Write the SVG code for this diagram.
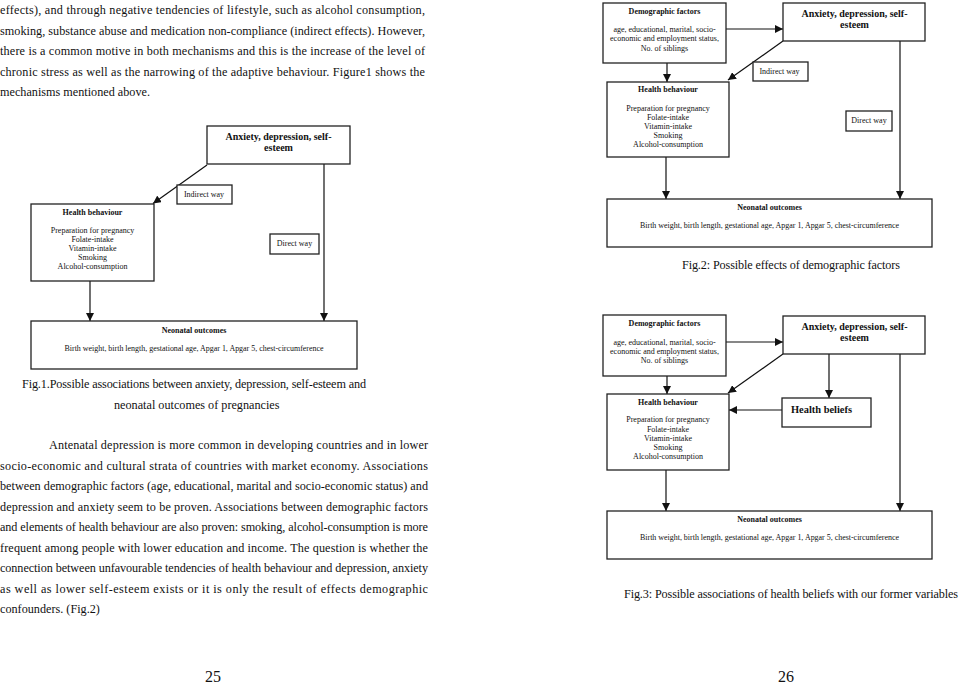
<svg xmlns="http://www.w3.org/2000/svg" width="960" height="684" viewBox="0 0 960 684">
<defs>
<marker id="ah" markerUnits="userSpaceOnUse" markerWidth="9" markerHeight="8" refX="8" refY="4" orient="auto">
<path d="M0,0 L8,4 L0,8 Z" fill="#111"/>
</marker>
<style>
.bg{fill:#fff}
.box{fill:#fff;stroke:#222;stroke-width:1.3}
.conn line{stroke:#111;stroke-width:1.2;fill:none}
.arr{marker-end:url(#ah)}
text{font-family:"Liberation Serif","Times New Roman",serif;fill:#111}
.p{font-size:12.2px}
.cap{font-size:12.2px}
.t{font-size:8px;text-anchor:middle}
.tb{font-size:8px;font-weight:bold;text-anchor:middle}
.big{font-size:10px;font-weight:bold;text-anchor:middle}
.lab{font-size:8px;text-anchor:middle}
.pg{font-size:16px;text-anchor:middle}
</style>
</defs>
<rect class="bg" x="0" y="0" width="960" height="684"/>

<g id="text-top">
<text class="p" x="0" y="14" textLength="425" lengthAdjust="spacing">effects), and through negative tendencies of lifestyle, such as alcohol consumption,</text>
<text class="p" x="0" y="35" textLength="425" lengthAdjust="spacing">smoking, substance abuse and medication non-compliance (indirect effects). However,</text>
<text class="p" x="0" y="55" textLength="425" lengthAdjust="spacing">there is a common motive in both mechanisms and this is the increase of the level of</text>
<text class="p" x="0" y="76" textLength="425" lengthAdjust="spacing">chronic stress as well as the narrowing of the adaptive behaviour. Figure1 shows the</text>
<text class="p" x="0" y="96">mechanisms mentioned above.</text>
</g>

<!-- Figure 1 -->
<g id="f1-conn" class="conn">
<line class="arr" x1="207" y1="165" x2="153" y2="203.5"/>
<line class="arr" x1="324" y1="164" x2="324" y2="321"/>
<line class="arr" x1="90" y1="281" x2="90" y2="321"/>
</g>
<g id="f1-anx">
<rect class="box" x="207" y="126" width="143" height="38"/>
<text class="big" x="278.5" y="140">Anxiety, depression, self-</text>
<text class="big" x="278.5" y="151">esteem</text>
</g>
<g id="f1-indirect">
<rect class="box" x="177" y="185" width="55" height="19"/>
<text class="lab" x="204" y="196.5">Indirect way</text>
</g>
<g id="f1-direct">
<rect class="box" x="270" y="234" width="49" height="20"/>
<text class="lab" x="294.5" y="246">Direct way</text>
</g>
<g id="f1-hb">
<rect class="box" x="31" y="204" width="123" height="77"/>
<text class="tb" x="92.5" y="215">Health behaviour</text>
<text class="t" x="92.5" y="233">Preparation for pregnancy</text>
<text class="t" x="92.5" y="242">Folate-intake</text>
<text class="t" x="92.5" y="251">Vitamin-intake</text>
<text class="t" x="92.5" y="260">Smoking</text>
<text class="t" x="92.5" y="269">Alcohol-consumption</text>
</g>
<g id="f1-neo">
<rect class="box" x="31" y="321" width="326" height="48"/>
<text class="tb" x="194" y="333">Neonatal outcomes</text>
<text class="t" x="194" y="351" textLength="259" lengthAdjust="spacingAndGlyphs">Birth weight, birth length, gestational age, Apgar 1, Apgar 5, chest-circumference</text>
</g>
<g id="f1-caption">
<text class="cap" x="22" y="388" textLength="344" lengthAdjust="spacing">Fig.1.Possible associations between anxiety, depression, self-esteem and</text>
<text class="cap" x="114" y="409">neonatal outcomes of pregnancies</text>
</g>

<g id="text-bottom">
<text class="p" x="49" y="449" textLength="379" lengthAdjust="spacing">Antenatal depression is more common in developing countries and in lower</text>
<text class="p" x="0" y="470" textLength="428" lengthAdjust="spacing">socio-economic and cultural strata of countries with market economy. Associations</text>
<text class="p" x="0" y="490" textLength="428" lengthAdjust="spacing">between demographic factors (age, educational, marital and socio-economic status) and</text>
<text class="p" x="0" y="511" textLength="428" lengthAdjust="spacing">depression and anxiety seem to be proven. Associations between demographic factors</text>
<text class="p" x="0" y="531" textLength="428" lengthAdjust="spacing">and elements of health behaviour are also proven: smoking, alcohol-consumption is more</text>
<text class="p" x="0" y="552" textLength="428" lengthAdjust="spacing">frequent among people with lower education and income. The question is whether the</text>
<text class="p" x="0" y="572" textLength="428" lengthAdjust="spacing">connection between unfavourable tendencies of health behaviour and depression, anxiety</text>
<text class="p" x="0" y="593" textLength="428" lengthAdjust="spacing">as well as lower self-esteem exists or it is only the result of effects demographic</text>
<text class="p" x="0" y="613">confounders. (Fig.2)</text>
</g>

<!-- Figure 2 -->
<g id="f2-conn" class="conn">
<line class="arr" x1="722" y1="29" x2="783" y2="29"/>
<line class="arr" x1="667" y1="63" x2="667" y2="82"/>
<line class="arr" x1="783" y1="41" x2="728" y2="80"/>
<line class="arr" x1="900" y1="41" x2="900" y2="199"/>
<line class="arr" x1="666" y1="157" x2="666" y2="199"/>
</g>
<g id="f2-demo">
<rect class="box" x="603" y="3" width="123" height="60"/>
<text class="tb" x="664.5" y="14">Demographic factors</text>
<text class="t" x="664.5" y="32">age, educational, marital, socio-</text>
<text class="t" x="664.5" y="41">economic and employment status,</text>
<text class="t" x="664.5" y="51">No. of siblings</text>
</g>
<g id="f2-anx">
<rect class="box" x="783" y="3" width="142" height="38"/>
<text class="big" x="854.5" y="17">Anxiety, depression, self-</text>
<text class="big" x="854.5" y="28">esteem</text>
</g>
<g id="f2-indirect">
<rect class="box" x="753" y="62" width="55" height="19"/>
<text class="lab" x="779.5" y="73.5">Indirect way</text>
</g>
<g id="f2-direct">
<rect class="box" x="846" y="111" width="46" height="20"/>
<text class="lab" x="869" y="123">Direct way</text>
</g>
<g id="f2-hb">
<rect class="box" x="607" y="82" width="122" height="75"/>
<text class="tb" x="668" y="92">Health behaviour</text>
<text class="t" x="668" y="111">Preparation for pregnancy</text>
<text class="t" x="668" y="120">Folate-intake</text>
<text class="t" x="668" y="129">Vitamin-intake</text>
<text class="t" x="668" y="138">Smoking</text>
<text class="t" x="668" y="147">Alcohol-consumption</text>
</g>
<g id="f2-neo">
<rect class="box" x="607" y="199" width="325" height="48"/>
<text class="tb" x="769.5" y="210">Neonatal outcomes</text>
<text class="t" x="769.5" y="228" textLength="259" lengthAdjust="spacingAndGlyphs">Birth weight, birth length, gestational age, Apgar 1, Apgar 5, chest-circumference</text>
</g>
<g id="f2-caption">
<text class="cap" x="682" y="269" textLength="218" lengthAdjust="spacing">Fig.2: Possible effects of demographic factors</text>
</g>

<!-- Figure 3 -->
<g id="f3-conn" class="conn">
<line class="arr" x1="722" y1="342" x2="783" y2="342"/>
<line class="arr" x1="667" y1="376" x2="667" y2="394"/>
<line class="arr" x1="783" y1="354" x2="728" y2="393"/>
<line class="arr" x1="829" y1="354" x2="829" y2="398"/>
<line class="arr" x1="782" y1="410" x2="729" y2="410"/>
<line class="arr" x1="900" y1="354" x2="900" y2="511"/>
<line class="arr" x1="666" y1="470" x2="666" y2="511"/>
</g>
<g id="f3-demo">
<rect class="box" x="603" y="315" width="123" height="61"/>
<text class="tb" x="664.5" y="326">Demographic factors</text>
<text class="t" x="664.5" y="345">age, educational, marital, socio-</text>
<text class="t" x="664.5" y="354">economic and employment status,</text>
<text class="t" x="664.5" y="363">No. of siblings</text>
</g>
<g id="f3-anx">
<rect class="box" x="783" y="316" width="142" height="38"/>
<text class="big" x="854.5" y="330">Anxiety, depression, self-</text>
<text class="big" x="854.5" y="341">esteem</text>
</g>
<g id="f3-beliefs">
<rect class="box" x="782" y="398" width="89" height="29"/>
<text x="791" y="413" style="font-size:11px;font-weight:bold" textLength="61" lengthAdjust="spacingAndGlyphs">Health beliefs</text>
</g>
<g id="f3-hb">
<rect class="box" x="607" y="394" width="122" height="76"/>
<text class="tb" x="668" y="405">Health behaviour</text>
<text class="t" x="668" y="422">Preparation for pregnancy</text>
<text class="t" x="668" y="432">Folate-intake</text>
<text class="t" x="668" y="441">Vitamin-intake</text>
<text class="t" x="668" y="450">Smoking</text>
<text class="t" x="668" y="459">Alcohol-consumption</text>
</g>
<g id="f3-neo">
<rect class="box" x="607" y="511" width="325" height="48"/>
<text class="tb" x="769.5" y="522">Neonatal outcomes</text>
<text class="t" x="769.5" y="540" textLength="259" lengthAdjust="spacingAndGlyphs">Birth weight, birth length, gestational age, Apgar 1, Apgar 5, chest-circumference</text>
</g>
<g id="f3-caption">
<text class="cap" x="624" y="598" textLength="334" lengthAdjust="spacing">Fig.3: Possible associations of health beliefs with our former variables</text>
</g>

<g id="page-numbers">
<text class="pg" x="213" y="682">25</text>
<text class="pg" x="786" y="682">26</text>
</g>
</svg>
